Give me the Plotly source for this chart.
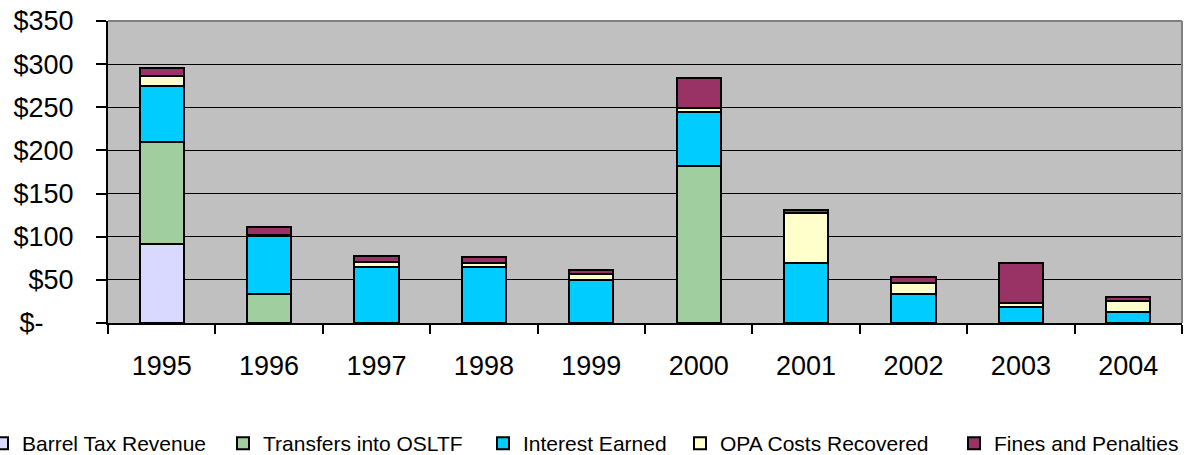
import plotly.graph_objects as go

years = ["1995", "1996", "1997", "1998", "1999", "2000", "2001", "2002", "2003", "2004"]
barrel_tax = [92, 0, 0, 0, 0, 0, 0, 0, 0, 0]
transfers = [118, 34, 0, 0, 0, 182, 0, 0, 0, 0]
interest = [65, 67, 65, 65, 50, 62, 69, 34, 18, 13]
opa_costs = [11, 1, 6, 4, 7, 5, 58, 12, 5, 12]
fines = [10, 9, 7, 7, 5, 35, 4, 7, 46, 5]

series_names = ["Barrel Tax Revenue", "Transfers into OSLTF", "Interest Earned",
                "OPA Costs Recovered", "Fines and Penalties"]
series_values = [barrel_tax, transfers, interest, opa_costs, fines]
series_colors = ["#D9D9FF", "#A0CE9E", "#00CCFF", "#FFFFCC", "#993366"]

FONT = "Liberation Sans, Arial, sans-serif"
W, H = 1203, 455
ML, MR, MT, MB = 108, 21, 21, 132
PW = W - ML - MR

# left edge (px) of each one-item legend box
legend_left_px = [-18, 223, 483, 680, 954]

tick_vals = [0, 50, 100, 150, 200, 250, 300, 350]
tick_text = ["$-" + "\u00a0" * 4, "$50", "$100", "$150", "$200", "$250", "$300", "$350"]

fig = go.Figure()
legend_layouts = {}
for i, (name, vals, color) in enumerate(zip(series_names, series_values, series_colors)):
    lname = "legend" if i == 0 else f"legend{i + 1}"
    fig.add_trace(go.Bar(
        x=years, y=vals, name=name,
        marker=dict(color=color, line=dict(color="black", width=2)),
        legend=lname,
    ))
    legend_layouts[lname] = dict(
        orientation="h",
        xref="paper", yref="container",
        x=(legend_left_px[i] - ML) / PW, y=0.025, xanchor="left", yanchor="middle",
        font=dict(size=21, family=FONT, color="black"),
        itemwidth=30,
        bgcolor="rgba(0,0,0,0)",
    )

fig.update_layout(
    barmode="stack",
    bargap=0.59,
    width=W, height=H,
    margin=dict(l=ML, r=MR, t=MT, b=MB, autoexpand=False),
    paper_bgcolor="white",
    plot_bgcolor="#C0C0C0",
    font=dict(family=FONT, color="black"),
    showlegend=True,
    **legend_layouts,
)

fig.update_xaxes(
    type="category",
    tickson="boundaries",
    ticks="outside", ticklen=9, tickwidth=2, tickcolor="black",
    showline=True, linecolor="black", linewidth=2,
    showgrid=False,
    tickfont=dict(size=27, family=FONT),
    ticklabelstandoff=18,
)
fig.update_yaxes(
    range=[0, 350],
    tickvals=tick_vals, ticktext=tick_text,
    ticks="outside", ticklen=10, tickwidth=2, tickcolor="black",
    showline=True, linecolor="black", linewidth=2,
    showgrid=True, gridcolor="black", gridwidth=1,
    zeroline=False,
    tickfont=dict(size=27, family=FONT),
    ticklabelstandoff=17,
)

# Grey plot-area border on top and right
fig.add_shape(type="line", xref="paper", yref="paper", x0=0, x1=1, y0=1, y1=1,
              line=dict(color="#808080", width=2))
fig.add_shape(type="line", xref="paper", yref="paper", x0=1, x1=1, y0=0, y1=1,
              line=dict(color="#808080", width=2))

fig.write_html("out.html", config={"displayModeBar": False},
               post_script="document.body.style.margin='0px';")
